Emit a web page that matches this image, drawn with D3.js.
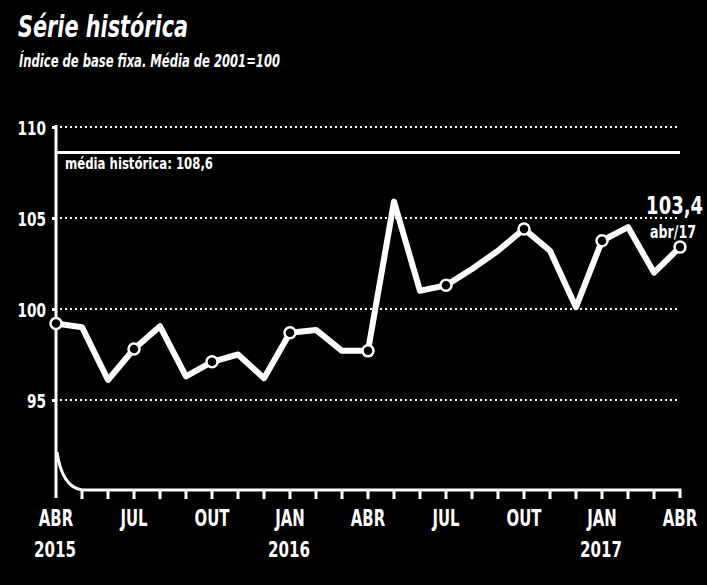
<!DOCTYPE html>
<html>
<head>
<meta charset="utf-8">
<script src="https://cdn.jsdelivr.net/npm/d3@7"></script>
<style>
  html, body { margin: 0; padding: 0; background: #000; }
  svg { display: block; }
  text { fill: #fff; font-family: "Liberation Sans Narrow", "DejaVu Sans Condensed", "DejaVu Sans", sans-serif; font-weight: bold; }
</style>
</head>
<body>
<svg id="chart"></svg>
<script>
// months apr/2015 .. apr/2017
const months = ['ABR','MAI','JUN','JUL','AGO','SET','OUT','NOV','DEZ','JAN','FEV','MAR',
  'ABR','MAI','JUN','JUL','AGO','SET','OUT','NOV','DEZ','JAN','FEV','MAR','ABR'];
const values = [99.2, 99.0, 96.1, 97.8, 99.05, 96.3, 97.1, 97.5, 96.2, 98.7, 98.85, 97.7,
  97.7, 105.9, 101.0, 101.3, 102.2, 103.2, 104.4, 103.2, 100.1, 103.75, 104.5, 102.0, 103.4];
const yTicks = [95, 100, 105, 110];
const labelMonths = [0, 3, 6, 9, 12, 15, 18, 21, 24];
const yearLabels = [{ i: 0, text: '2015' }, { i: 9, text: '2016' }, { i: 21, text: '2017' }];
const mediaHistorica = 108.6;

const W = 707, H = 585;
const svg = d3.select('#chart').attr('width', W).attr('height', H);

const x = d3.scaleLinear().domain([0, months.length - 1]).range([56, 680]);
const y = d3.scaleLinear().domain([90, 110]).range([491, 127]);

// squeeze text horizontally, the original uses a condensed face
const narrow = (sel, px, py, sx) =>
  sel.attr('transform', `translate(${px},${py}) scale(${sx},1)`);

// title
svg.append('text')
  .attr('x', 18).attr('y', 37)
  .attr('font-size', 30).attr('font-style', 'italic')
  .attr('textLength', 170).attr('lengthAdjust', 'spacingAndGlyphs')
  .text('Série histórica');
svg.append('text')
  .attr('x', 19).attr('y', 67)
  .attr('font-size', 17).attr('font-style', 'italic')
  .attr('textLength', 261).attr('lengthAdjust', 'spacingAndGlyphs')
  .text('Índice de base fixa. Média de 2001=100');

// grid
svg.append('g')
  .selectAll('line')
  .data(yTicks)
  .enter()
  .append('line')
  .attr('x1', 60).attr('x2', 680)
  .attr('y1', d => y(d)).attr('y2', d => y(d))
  .attr('stroke', '#fff').attr('stroke-width', 2)
  .attr('stroke-dasharray', '2,3');

// y axis
const yAxis = svg.append('g')
  .attr('transform', 'translate(56,0)')
  .call(d3.axisLeft(y).tickValues(yTicks).tickSize(4).tickPadding(6));
yAxis.select('.domain').remove();
yAxis.selectAll('.tick line').attr('stroke', '#fff').attr('stroke-width', 3);
yAxis.selectAll('.tick text')
  .attr('fill', '#fff').attr('font-size', 20)
  .attr('font-family', null)
  .attr('x', null).attr('dy', '0.36em')
  .attr('transform', 'translate(-10,0) scale(0.76,1)');

svg.append('line')
  .attr('x1', 56).attr('x2', 56)
  .attr('y1', y(110) - 2).attr('y2', 498)
  .attr('stroke', '#fff').attr('stroke-width', 3);

// x axis with rounded corner
const base = 490;
svg.append('path')
  .attr('d', `M${x(0) + 1},452 C${x(0) + 4},473 ${x(0) + 12},488 ${x(1)},${base} L${x(24)},${base} L${x(24)},${base + 8}`)
  .attr('fill', 'none').attr('stroke', '#fff').attr('stroke-width', 3);

svg.append('g')
  .selectAll('line')
  .data(d3.range(1, months.length - 1))
  .enter()
  .append('line')
  .attr('x1', d => x(d)).attr('x2', d => x(d))
  .attr('y1', base).attr('y2', base + 9)
  .attr('stroke', '#fff').attr('stroke-width', 3);

svg.append('g')
  .selectAll('text')
  .data(labelMonths)
  .enter()
  .append('text')
  .attr('text-anchor', 'middle').attr('font-size', 23)
  .attr('transform', d => `translate(${x(d)},526) scale(0.72,1)`)
  .text(d => months[d]);

svg.append('g')
  .selectAll('text')
  .data(yearLabels)
  .enter()
  .append('text')
  .attr('text-anchor', 'middle').attr('font-size', 21)
  .attr('transform', d => `translate(${x(d.i) - 1},557) scale(0.8,1)`)
  .text(d => d.text);

// média histórica
svg.append('line')
  .attr('x1', 56).attr('x2', 680)
  .attr('y1', y(mediaHistorica)).attr('y2', y(mediaHistorica))
  .attr('stroke', '#fff').attr('stroke-width', 3);
svg.append('text')
  .attr('x', 65).attr('y', y(mediaHistorica) + 17)
  .attr('font-size', 15)
  .attr('textLength', 148).attr('lengthAdjust', 'spacingAndGlyphs')
  .text('média histórica: 108,6');

// series
const line = d3.line()
  .x((d, i) => x(i))
  .y(d => y(d));

svg.append('path')
  .datum(values)
  .attr('d', line)
  .attr('fill', 'none')
  .attr('stroke', '#fff')
  .attr('stroke-width', 6)
  .attr('stroke-linejoin', 'round');

svg.append('g')
  .selectAll('circle')
  .data(labelMonths)
  .enter()
  .append('circle')
  .attr('cx', d => x(d)).attr('cy', d => y(values[d]))
  .attr('r', 5.5)
  .attr('fill', '#000').attr('stroke', '#fff').attr('stroke-width', 2.5);

// last value label
const last = values.length - 1;
svg.append('text')
  .attr('text-anchor', 'end').attr('font-size', 25)
  .call(narrow, 703, y(values[last]) - 33, 0.8)
  .text(d3.format('.1f')(values[last]).replace('.', ','));
svg.append('text')
  .attr('text-anchor', 'end').attr('font-size', 18)
  .call(narrow, 696, y(values[last]) - 9, 0.78)
  .text('abr/17');
</script>
</body>
</html>
